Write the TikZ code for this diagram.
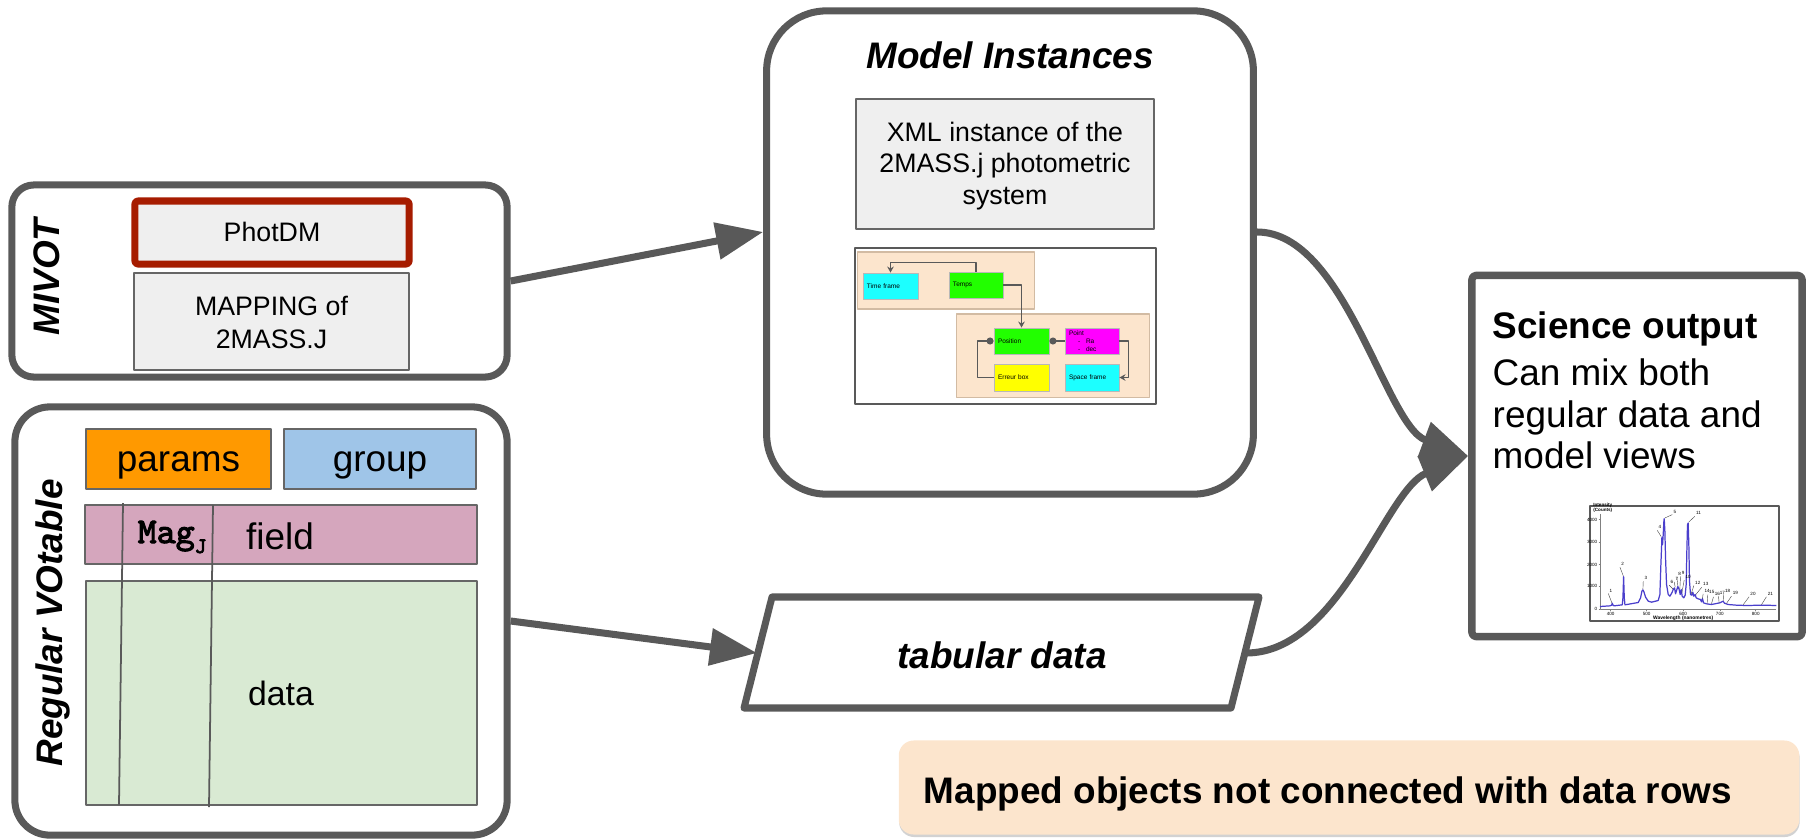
\documentclass[tikz,border=0pt]{standalone}
\usepackage{fontspec}
\setmainfont{Liberation Sans}
\newfontfamily\magfont[FakeBold=3]{Latin Modern Mono}
\usetikzlibrary{arrows.meta,shadows}

\definecolor{edge}{HTML}{595959}
\definecolor{boxedge}{HTML}{666666}
\definecolor{berry}{HTML}{A61C00}
\definecolor{paleg}{HTML}{EFEFEF}
\definecolor{orng}{HTML}{FF9900}
\definecolor{skyb}{HTML}{9FC5E8}
\definecolor{mauve}{HTML}{D5A6BD}
\definecolor{mint}{HTML}{D9EAD3}
\definecolor{peach}{HTML}{FCE5CD}
\definecolor{peachedge}{HTML}{D2BBA3}
\definecolor{minicyan}{HTML}{1CFFFF}
\definecolor{minigreen}{HTML}{22FF00}
\definecolor{minimag}{HTML}{FF00FF}
\definecolor{miniyel}{HTML}{FFFF00}
\definecolor{miniedge}{HTML}{B8B8B8}
\definecolor{specblue}{HTML}{4A3FCC}

\tikzset{
  frame/.style={draw=edge, line width=2pt, fill=white, inner sep=0pt},
  thinbox/.style={draw=boxedge, line width=0.45pt, inner sep=0pt},
  link/.style={draw=edge, line width=2pt, -{Triangle[length=0.47cm,width=0.36cm]}},
  txtbig/.style={font=\fontsize{10.5}{12}\selectfont},
  txtbigb/.style={font=\fontsize{10.5}{12}\selectfont\bfseries},
  txtbigbi/.style={font=\fontsize{10.5}{12}\selectfont\bfseries\itshape},
  onelinebig/.style={txtbig, text height=9.5pt, text depth=2.23pt},
  txtsmall/.style={font=\fontsize{7.6}{8.9}\selectfont},
  onelinesmall/.style={txtsmall, text height=6.88pt, text depth=1.61pt},
  panel/.style={draw=peachedge, line width=0.3pt, fill=peach, inner sep=0pt},
  minibox/.style={draw=miniedge, line width=0.25pt, inner xsep=0.04cm, inner ysep=0pt,
    align=left, font=\fontsize{1.85}{2.28}\selectfont},
  minilink/.style={draw=edge, line width=0.35pt},
  spectxt/.style={font=\fontsize{1.3}{1.5}\selectfont, inner sep=0.2pt},
}

\begin{document}
\begin{tikzpicture}[x=0.01cm, y=-0.01cm, line join=round]
\useasboundingbox (0,0) rectangle (1806,839);

% ---------- outer frames ----------
\node[frame, rounded corners=0.22cm, minimum width=4.95cm, minimum height=1.92cm] (mivot) at (259.5,281) {};
\node[frame, rounded corners=0.35cm, minimum width=4.92cm, minimum height=4.28cm] (vot) at (261,621) {};
\node[frame, rounded corners=0.6cm, minimum width=4.865cm, minimum height=4.83cm] (model) at (1010,252.5) {};
\node[frame, line width=2.1pt, rounded corners=0.04cm, minimum width=3.30cm, minimum height=3.61cm] (sci) at (1637,456) {};

% tabular data parallelogram
\path[draw=edge, line width=2pt, fill=white] (772,597) -- (1259,597) -- (1231,708) -- (744,708) -- cycle;
\node[txtbigbi, anchor=base] (tab) at (1002,668) {tabular data};
\coordinate (tabL) at (757,653);
\coordinate (tabR) at (1246,653);

% ---------- MIVOT block ----------
\node[txtbigbi, rotate=90, anchor=base] (mivotlbl) at (59,277) {MIVOT};
\node[draw=berry, line width=2pt, fill=paleg, rounded corners=0.03cm, inner sep=0pt,
      minimum width=2.74cm, minimum height=0.63cm, onelinesmall] (phot) at (272,232.5) {PhotDM};
\node[thinbox, fill=paleg, minimum width=2.75cm, minimum height=0.97cm] (mapbox) at (271.5,321.5) {};
\node[font=\fontsize{7.6}{9.4}\selectfont, align=center, inner sep=0pt] (maptxt) at (271.5,322) {MAPPING of\\2MASS.J};

% ---------- Regular VOtable block ----------
\node[txtbigbi, rotate=90, anchor=base] (votlbl) at (62,623) {Regular VOtable};
\node[thinbox, fill=orng, minimum width=1.85cm, minimum height=0.60cm, onelinebig] (params) at (178.5,459) {params};
\node[thinbox, fill=skyb, minimum width=1.92cm, minimum height=0.60cm, onelinebig] (group) at (380,459) {group};
\node[thinbox, fill=mauve, minimum width=3.92cm, minimum height=0.59cm] (field) at (281,534.5) {};
\node[thinbox, fill=mint, minimum width=3.91cm, minimum height=2.24cm] (data) at (281.5,693) {};
\node[txtbig, anchor=base] (fieldtxt) at (280,549) {field};
\node[font=\fontsize{9.6}{11}\selectfont, anchor=base] (datatxt) at (281,705) {data};
\node[anchor=base west, inner sep=0pt] (magj) at (137,543)
  {\fontsize{10.3}{11}\selectfont\magfont Mag\raisebox{-2.85pt}{\fontsize{6.3}{7}\selectfont J}};
\draw[edge, line width=0.5pt] (123,503) -- (119,805);
\draw[edge, line width=0.5pt] (213,505) -- (209,807);

% ---------- Model Instances block ----------
\node[txtbigbi, anchor=base] (modeltitle) at (1010,68) {Model Instances};
\node[thinbox, fill=paleg, minimum width=2.98cm, minimum height=1.30cm] (xmlbox) at (1005,164) {};
\node[txtsmall, align=center, inner sep=0pt] (xmltxt) at (1005,166)
  {XML instance of the\\2MASS.j photometric\\system};
\node[draw=edge, line width=0.5pt, fill=white, inner sep=0pt, minimum width=3.01cm, minimum height=1.56cm] (imgbox) at (1005.5,326) {};

% small class diagram
\node[panel, minimum width=1.76cm, minimum height=0.57cm] (pan1) at (946,280.5) {};
\node[panel, minimum width=1.92cm, minimum height=0.83cm] (pan2) at (1053,355.5) {};
\node[minibox, fill=minicyan, minimum width=0.55cm, minimum height=0.26cm, text width=0.47cm] (tframe) at (890.5,286) {Time frame};
\node[minibox, fill=minigreen, minimum width=0.54cm, minimum height=0.26cm, text width=0.46cm] (temps) at (976,285) {Temps};
\node[minibox, fill=minigreen, minimum width=0.55cm, minimum height=0.26cm, text width=0.47cm] (position) at (1021.5,341) {Position};
\node[minibox, fill=minimag, minimum width=0.54cm, minimum height=0.26cm, text width=0.46cm] (point) at (1092,341)
  {Point\\\hspace*{0.09cm}\makebox[0.08cm][l]{-}Ra\\\hspace*{0.09cm}\makebox[0.08cm][l]{-}dec};
\node[minibox, fill=miniyel, minimum width=0.55cm, minimum height=0.27cm, text width=0.47cm] (erreur) at (1021.5,377.5) {Erreur box};
\node[minibox, fill=minicyan, minimum width=0.54cm, minimum height=0.27cm, text width=0.46cm] (space) at (1092,377.5) {Space frame};

\draw[minilink, -{Stealth[length=0.6mm,width=0.65mm]}] (temps.north) -- ++(0,-9) -| (tframe.north);
\draw[minilink, -{Stealth[length=0.6mm,width=0.65mm]}] (temps.east) -| (position.north);
\draw[minilink, -{Circle[length=0.7mm]}] (point.west) -- (position.east);
\draw[minilink, -{Circle[length=0.7mm]}] (erreur.west) -- ++(-16,0) |- (position.west);
\draw[minilink, -{Stealth[length=0.6mm,width=0.65mm]}] (point.east) -- ++(9,0) |- (space.east);

% ---------- Science output ----------
\node[txtbigb, anchor=base west, inner sep=0pt] (scititle) at (1492,338) {Science output};
\node[txtbig, anchor=base west, inner sep=0pt] (scil1) at (1492,385) {Can mix both};
\node[txtbig, anchor=base west, inner sep=0pt] (scil2) at (1492,427) {regular data and};
\node[txtbig, anchor=base west, inner sep=0pt] (scil3) at (1492,468) {model views};

% spectrum thumbnail
\node[draw=edge, line width=0.6pt, fill=white, inner sep=0pt, minimum width=1.89cm, minimum height=1.15cm] (spec) at (1684.5,563.5) {};
\begin{scope}[shift={(1580,498)}, x=0.003333cm, y=-0.003333cm]
  \draw[gray, line width=0.2pt] (60,48) -- (60,335) -- (590,335);
  \foreach \ty/\tl [count=\k] in {65/4000,132/3000,200/2000,265/1000,333/0} {
    \draw[gray, line width=0.15pt] (56,\ty) -- (60,\ty);
    \node[spectxt, anchor=east] (ytick\k) at (56,\ty) {\tl};
  }
  \foreach \tx/\tl [count=\k] in {92/400,200/500,310/600,420/700,528/800} {
    \draw[gray, line width=0.15pt] (\tx,335) -- (\tx,339);
    \node[spectxt, anchor=north] (xtick\k) at (\tx,339) {\tl};
  }
  \node[spectxt, anchor=south west, align=left, font=\fontsize{1.3}{1.5}\selectfont\bfseries] (ylab) at (36,47) {Intensity\\(Counts)};
  \node[spectxt, anchor=north, font=\fontsize{1.4}{1.6}\selectfont\bfseries] (xlab) at (310,349) {Wavelength (nanometres)};
  \draw[specblue, line width=0.35pt]
    (60,326) -- (90,324) -- (95,322) -- (97,316) -- (99,322) -- (103,324) -- (127,321) -- (129,300)
    -- (131,236) -- (133,300) -- (135,321) -- (175,314) -- (182,300) -- (186,280) -- (189,276)
    -- (192,282) -- (197,298) -- (205,310) -- (215,313) -- (235,308) -- (240,290) -- (243,200)
    -- (245,150) -- (246,118) -- (248,140) -- (250,110) -- (252,70) -- (253,62) -- (255,100)
    -- (257,180) -- (260,260) -- (265,290) -- (270,295) -- (276,285) -- (280,275) -- (284,270)
    -- (287,288) -- (290,278) -- (294,266) -- (298,275) -- (301,290) -- (304,275) -- (307,295)
    -- (312,300) -- (316,292) -- (319,260) -- (321,160) -- (323,80) -- (325,75) -- (327,140)
    -- (329,250) -- (332,290) -- (336,292) -- (339,283) -- (342,295) -- (346,290) -- (349,300)
    -- (355,303) -- (362,305) -- (365,312) -- (368,302) -- (371,315) -- (380,318) -- (395,320)
    -- (405,318) -- (420,315) -- (430,310) -- (434,316) -- (445,320) -- (470,322) -- (500,323)
    -- (550,322) -- (590,323);
  \foreach \lx/\ly/\px/\py [count=\k] in {
      85/287/96/316, 120/208/130/234, 190/250/189/274, 232/97/244/116, 277/50/255/60,
      268/262/280/274, 283/252/286/268, 291/238/294/264, 302/235/300/273, 313/247/306/285,
      345/55/327/72, 342/263/334/288, 366/268/348/290, 370/288/368/302, 384/290/382/317,
      401/297/395/318, 416/295/418/315, 432/288/431/309, 455/295/440/317, 508/297/490/321,
      560/297/545/321} {
    \draw[black!70, line width=0.12pt] (\lx,\ly) -- (\px,\py);
    \node[spectxt, anchor=south west] (peak\k) at (\lx,\ly) {\k};
  }
\end{scope}

% ---------- note ----------
\node[fill=peach, rounded corners=0.15cm, minimum width=9.0cm, minimum height=0.94cm, inner sep=0pt,
      drop shadow={shadow xshift=0.004cm, shadow yshift=-0.025cm, fill=black!35}] (note) at (1349,787.5) {};
\node[txtbigb, anchor=base west, inner sep=0pt] (notetxt) at (923,803) {Mapped objects not connected with data rows};

% ---------- connectors ----------
\draw[link] (mivot.east) -- ([yshift=0.205cm]model.west);
\draw[link] (vot.east) -- (tabL);
\draw[link] ([yshift=0.205cm]model.east) .. controls (1345,232) and (1385,425) .. (sci.west);
\draw[link] (tabR) .. controls (1340,653) and (1385,490) .. (sci.west);
\end{tikzpicture}
\end{document}
